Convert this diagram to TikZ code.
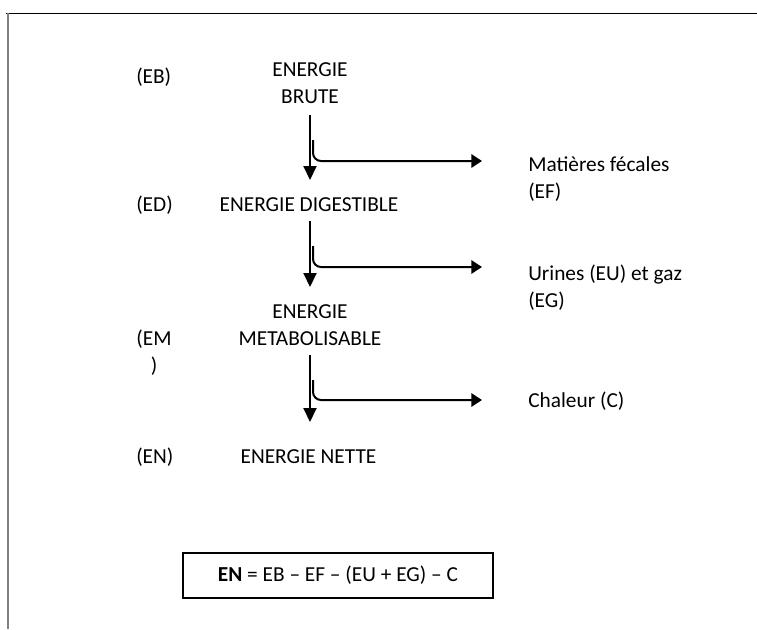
\documentclass[tikz,border=0pt]{standalone}
\usepackage{fontspec}
\setmainfont{Carlito}
\usetikzlibrary{arrows.meta}
\begin{document}
\begin{tikzpicture}[x=0.75pt,y=-0.75pt,
  every node/.style={inner sep=0pt, font=\fontsize{16}{20}\selectfont},
  stage/.style={anchor=base, align=center},
  tag/.style={anchor=base west},
  loss/.style={anchor=base west, align=left},
  mainflow/.style={line width=1.5pt, -{Triangle[length=10.5pt,width=9.75pt]}},
  sideflow/.style={line width=1.5pt, rounded corners=6pt, -{Triangle[length=8pt,width=10pt]}},
  formula/.style={draw, line width=1pt, minimum width=232.5pt, minimum height=33.75pt}
]
\useasboundingbox (0,0) rectangle (757,629);
\fill[white] (0,0) rectangle (757,629);
% page frame
\draw[line width=0.75pt] (6,13) -- (757,13);
\draw[gray, line width=1.5pt] (8,13) -- (8,629);

% energy stages (base = baseline of the last line)
\node[stage] (eb) at (310,103) {ENERGIE\\BRUTE};
\node[stage] (ed) at (309,211) {ENERGIE DIGESTIBLE};
\node[stage] (em) at (310,345) {ENERGIE\\METABOLISABLE};
\node[stage] (en) at (308.5,463) {ENERGIE NETTE};

% abbreviations
\node[tag] (ebtag) at (136,83) {(EB)};
\node[tag] (edtag) at (136,211) {(ED)};
\node[stage] (emtag) at (154,372) {(EM\\)};
\node[tag] (entag) at (136,463) {(EN)};

% losses
\node[loss] (ef) at (528,198) {Matières fécales\\(EF)};
\node[loss] (eu) at (528,307) {Urines (EU) et gaz\\(EG)};
\node[loss] (ch) at (528,407) {Chaleur (C)};

% flow from one stage to the next
\coordinate (v1a) at (310,115);
\coordinate (v1b) at (310,180);
\coordinate (s1)  at (313,140);
\coordinate (h1)  at (482,161);
\coordinate (v2a) at (310,221);
\coordinate (v2b) at (310,287);
\coordinate (s2)  at (313,246);
\coordinate (h2)  at (482,267);
\coordinate (v3a) at (310,355);
\coordinate (v3b) at (310,422);
\coordinate (s3)  at (313,380);
\coordinate (h3)  at (482,400);

\draw[mainflow] (v1a) -- (v1b);
\draw[sideflow] (s1) |- (h1);
\draw[mainflow] (v2a) -- (v2b);
\draw[sideflow] (s2) |- (h2);
\draw[mainflow] (v3a) -- (v3b);
\draw[sideflow] (s3) |- (h3);

% balance
\node[formula] (eq) at (338,575.5) {\textbf{EN} = EB \textendash{} EF \textendash{} (EU + EG) \textendash{} C};
\end{tikzpicture}
\end{document}
